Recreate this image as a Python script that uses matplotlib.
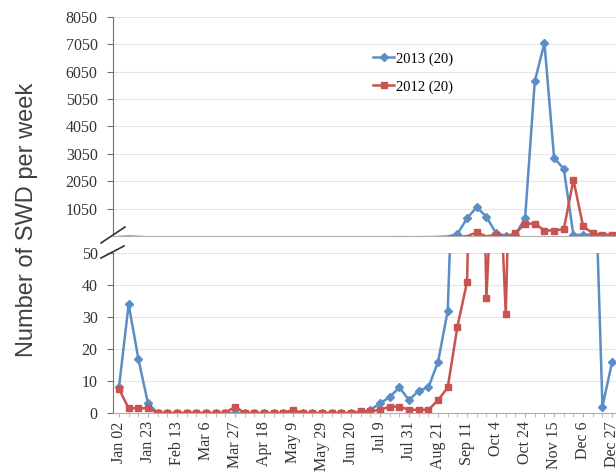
import numpy as np
import matplotlib
matplotlib.use('Agg')
import matplotlib.pyplot as plt
from matplotlib.lines import Line2D

# weekly trap counts, Jan 02 .. Dec 27 (52 weeks)
swd_2013 = [8, 34, 17, 3, 0, 0, 0, 0, 0, 0, 0, 0, 0, 0, 0, 0, 0, 0, 0, 0,
            0, 0, 0, 0, 0, 0, 1, 3, 5, 8, 4, 7, 8, 16, 32, 120, 700, 1100,
            750, 150, 60, 100, 700, 5700, 7100, 2900, 2500, 80, 100, 100, 2, 16]
swd_2012 = [7.5, 1.5, 1.5, 1.5, 0, 0, 0, 0, 0, 0, 0, 0, 2, 0, 0, 0, 0, 0, 1, 0,
            0, 0, 0, 0, 0, 0.5, 0.5, 1, 2, 2, 1, 1, 1, 4, 8, 27, 41, 180,
            36, 100, 31, 150, 500, 500, 250, 250, 300, 2100, 400, 150, 100, 100]
tick_labels = ['Jan 02', 'Jan 23', 'Feb 13', 'Mar 6', 'Mar 27', 'Apr 18',
               'May 9', 'May 29', 'Jun 20', 'Jul 9', 'Jul 31', 'Aug 21',
               'Sep 11', 'Oct 4', 'Oct 24', 'Nov 15', 'Dec 6', 'Dec 27']
top_ticks = [1050, 2050, 3050, 4050, 5050, 6050, 7050, 8050]
low_ticks = [0, 10, 20, 30, 40, 50]

blue = '#5b8dc6'
red = '#c9534f'
serif = 'Liberation Serif'
fs = 11.5

x = np.arange(len(swd_2013))

fig = plt.figure(figsize=(6.16, 4.75), dpi=100)
ax_top = fig.add_axes([0.1834, 0.5032, 0.8166, 0.4610])
ax_low = fig.add_axes([0.1834, 0.1305, 0.8166, 0.3369])

top_min = 50
for ax in (ax_top, ax_low):
    for vals, col, mk, lab in [(swd_2013, blue, 'D', '2013 (20)'),
                               (swd_2012, red, 's', '2012 (20)')]:
        if ax is ax_top:
            # only mark the weeks that reach the upper scale
            every = [i for i, v in enumerate(vals) if v >= top_min]
        else:
            every = None
        ax.plot(x, vals, color=col, lw=1.8, marker=mk, ms=4, mfc=col,
                mec=col, label=lab, markevery=every, zorder=3)
    ax.set_xlim(-0.62, 51.4)
    for s in ('top', 'right'):
        ax.spines[s].set_visible(False)
    ax.spines['left'].set_color('#707070')
    ax.spines['bottom'].set_color('#b0b0b0')
    ax.spines['bottom'].set_zorder(4)
    ax.grid(axis='y', color='#e6e6e6', lw=0.8)
    ax.set_axisbelow(True)
    ax.tick_params(axis='y', direction='out', length=4, color='#707070',
                   pad=7)

ax_top.set_ylim(top_min, 8050)
ax_top.set_yticks(top_ticks)
ax_top.set_yticklabels([str(t) for t in top_ticks], family=serif, fontsize=fs,
                       color='#333333')
ax_top.set_xticks([])

ax_low.set_ylim(0, 50)
ax_low.set_yticks(low_ticks)
ax_low.set_yticklabels([str(t) for t in low_ticks], family=serif, fontsize=fs,
                       color='#333333')
ax_low.set_xticks(x[::3])
ax_low.set_xticklabels(tick_labels, rotation=90, family=serif, fontsize=fs,
                       color='#333333')
ax_low.set_xticks(x, minor=True)
ax_low.tick_params(axis='x', which='both', direction='out', length=3,
                   color='#b0b0b0', pad=3)

ax_top.legend(loc='upper left', bbox_to_anchor=(0.49, 0.9), frameon=False,
              handlelength=1.5, handletextpad=0.1, labelspacing=1.0,
              prop={'family': serif, 'size': 10.5})

# axis break marks
for (x0, y0, x1, y1) in [(101, 243, 125, 227), (101, 258, 124, 246)]:
    fig.add_artist(Line2D([x0 / 616, x1 / 616], [1 - y0 / 475, 1 - y1 / 475],
                          color='#333333', lw=1.2))

fig.text(0.044, 0.537, 'Number of SWD per week', rotation=90, ha='center',
         va='center', family='Liberation Sans', fontsize=17, color='#404040')

fig.savefig('out.png', dpi=100)
